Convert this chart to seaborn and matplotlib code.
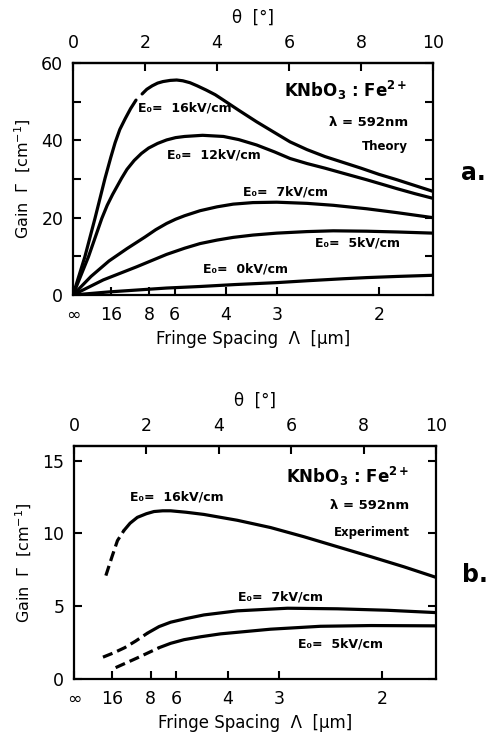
import numpy as np
import matplotlib
matplotlib.use("Agg")
import matplotlib.pyplot as plt
import seaborn as sns

# ---------------- data ----------------
WAVELENGTH_UM = 0.592
theta_ticks = [0, 2, 4, 6, 8, 10]
fringe_values = [np.inf, 16, 8, 6, 4, 3, 2]
fringe_labels = ["\u221e", "16", "8", "6", "4", "3", "2"]

# Panel a: theory, theta [deg] vs gain [cm^-1]
a16_rise_theta = [0, 0.33, 0.61, 0.89, 1.05, 1.17, 1.3, 1.45, 1.6, 1.75]
a16_rise_gain = [0, 9.9, 19.8, 30.2, 35.6, 39.4, 42.8, 45.6, 48.2, 50.4]
a16_fall_theta = [1.92, 2.05, 2.2, 2.35, 2.5, 2.7, 2.88, 3.05, 3.25, 3.45, 3.7, 3.95,
                  4.18, 4.6, 5.1, 5.6, 6.03, 6.5, 7.0, 7.5, 8.0, 8.5, 9.0, 9.5, 10.0]
a16_fall_gain = [52.0, 53.2, 54.1, 54.8, 55.2, 55.5, 55.6, 55.4, 54.9, 54.1, 53.0, 51.8,
                 50.4, 47.8, 44.8, 42.0, 39.6, 37.6, 35.8, 34.3, 32.8, 31.2, 29.8, 28.3, 26.8]

a12_theta = [0, 0.43, 0.8, 0.95, 1.1, 1.35, 1.5, 1.7, 1.9, 2.1, 2.35, 2.6, 2.85, 3.1,
             3.6, 4.18, 4.6, 5.1, 5.6, 6.03, 6.5, 7.0, 7.5, 8.16, 8.6, 9.0, 9.5, 10.0]
a12_gain = [0, 9.9, 19.8, 23.2, 26.0, 30.2, 32.5, 34.8, 36.6, 38.0, 39.2, 40.1, 40.7, 41.0,
            41.3, 41.0, 40.2, 38.8, 37.0, 35.3, 34.0, 32.8, 31.5, 29.8, 28.6, 27.5, 26.2, 25.0]

a7_theta = [0, 0.5, 1.0, 1.5, 2.0, 2.3, 2.6, 2.85, 3.1, 3.53, 4.0, 4.45, 5.0, 5.66,
            6.5, 7.23, 8.16, 9.0, 10.0]
a7_gain = [0, 4.8, 8.8, 12.0, 15.0, 16.9, 18.5, 19.6, 20.5, 21.8, 22.8, 23.5, 23.9, 24.0,
           23.7, 23.2, 22.3, 21.3, 20.0]

a5_theta = [0, 0.84, 1.77, 2.6, 3.1, 3.53, 4.0, 4.45, 5.0, 5.66, 6.5, 7.23, 8.16, 9.0, 10.0]
a5_gain = [0, 3.9, 7.3, 10.5, 12.1, 13.3, 14.2, 14.9, 15.5, 16.0, 16.4, 16.6, 16.5, 16.3, 16.0]

a0_theta = [0, 1.0, 2.6, 3.53, 4.5, 5.66, 6.53, 7.5, 8.16, 9.0, 10.0]
a0_gain = [0, 0.8, 1.8, 2.2, 2.7, 3.2, 3.7, 4.2, 4.5, 4.8, 5.1]

# Panel b: experiment (dashed = extrapolated part)
b16_dash_theta = [0.88, 1.05, 1.2, 1.38]
b16_dash_gain = [7.1, 8.4, 9.5, 10.2]
b16_theta = [1.38, 1.55, 1.75, 2.0, 2.21, 2.45, 2.67, 3.1, 3.59, 4.51, 5.43, 6.35,
             7.28, 8.2, 9.12, 10.0]
b16_gain = [10.2, 10.7, 11.1, 11.35, 11.5, 11.55, 11.55, 11.45, 11.3, 10.9, 10.4, 9.77,
            9.08, 8.4, 7.7, 6.98]

b7_dash_theta = [0.8, 1.1, 1.4, 1.7, 2.03]
b7_dash_gain = [1.5, 1.8, 2.15, 2.6, 3.15]
b7_theta = [2.03, 2.35, 2.67, 3.1, 3.59, 4.51, 5.9, 7.28, 8.66, 10.0]
b7_gain = [3.15, 3.6, 3.9, 4.15, 4.4, 4.68, 4.86, 4.82, 4.72, 4.56]

b5_dash_theta = [1.15, 1.75, 2.35]
b5_dash_gain = [0.78, 1.45, 2.15]
b5_theta = [2.35, 2.67, 3.04, 3.5, 4.05, 5.43, 6.81, 8.2, 10.0]
b5_gain = [2.15, 2.45, 2.7, 2.9, 3.1, 3.42, 3.62, 3.67, 3.65]

# ---------------- style ----------------
sns.set_style("ticks")
plt.rcParams["font.family"] = ["DejaVu Sans"]
plt.rcParams["mathtext.default"] = "regular"
plt.rcParams["text.color"] = "black"
plt.rcParams["axes.labelcolor"] = "black"
plt.rcParams["xtick.color"] = "black"
plt.rcParams["ytick.color"] = "black"
plt.rcParams["lines.solid_capstyle"] = "round"

LW = 2.3
DASH = (0, (3.2, 1.6))

fig = plt.figure(figsize=(4.88, 7.32), dpi=100)
fig.patch.set_facecolor("white")
ax_a = fig.add_axes([73 / 488, 1 - 295 / 732, 360 / 488, 232 / 732])
ax_b = fig.add_axes([74 / 488, 1 - 679 / 732, 362 / 488, 233 / 732])


def line(ax, x, y, dashed=False):
    sns.lineplot(x=x, y=y, ax=ax, color="black", lw=LW, sort=False,
                 estimator=None, linestyle=DASH if dashed else "-")


# panel a curves
line(ax_a, a16_rise_theta, a16_rise_gain)
line(ax_a, a16_fall_theta, a16_fall_gain)
line(ax_a, a12_theta, a12_gain)
line(ax_a, a7_theta, a7_gain)
line(ax_a, a5_theta, a5_gain)
line(ax_a, a0_theta, a0_gain)

# panel b curves
line(ax_b, b16_dash_theta, b16_dash_gain, dashed=True)
line(ax_b, b16_theta, b16_gain)
line(ax_b, b7_dash_theta, b7_dash_gain, dashed=True)
line(ax_b, b7_theta, b7_gain)
line(ax_b, b5_dash_theta, b5_dash_gain, dashed=True)
line(ax_b, b5_theta, b5_gain)

fringe_pos = [np.degrees(np.arcsin(WAVELENGTH_UM / (2 * v))) for v in fringe_values]


def style_axes(ax, ymax, major, minor, ylabels):
    ax.set_xlim(0, 10)
    ax.set_ylim(0, ymax)
    for s in ax.spines.values():
        s.set_visible(True)
        s.set_linewidth(1.6)
        s.set_color("black")
    ax.set_xticks(fringe_pos)
    ax.set_xticklabels(fringe_labels)
    ax.set_yticks(major)
    ax.set_yticklabels(ylabels)
    ax.set_yticks(minor, minor=True)
    ax.tick_params(axis="both", which="both", direction="in", length=6, width=1.5,
                   labelsize=12.5, colors="black")
    ax.tick_params(axis="y", which="both", right=True, pad=7)
    ax.tick_params(axis="x", which="both", top=False, pad=8)
    ax.set_xlabel("Fringe Spacing  \u039b  [\u03bcm]", fontsize=12, labelpad=4,
                  color="black")
    ax.set_ylabel("Gain  \u0393  [cm$^{-1}$]", fontsize=11.5, labelpad=6,
                  color="black")
    sec = ax.secondary_xaxis("top")
    sec.set_xticks(theta_ticks)
    sec.set_xticklabels([str(t) for t in theta_ticks])
    sec.tick_params(direction="in", length=6, width=1.5, labelsize=12.5, pad=8,
                    colors="black")
    sec.spines["top"].set_linewidth(1.6)
    sec.set_xlabel("\u03b8  [\u00b0]", fontsize=12, labelpad=8, color="black")
    ax.set_facecolor("white")


style_axes(ax_a, 60, [0, 20, 40, 60], [10, 30, 50], ["0", "20", "40", "60"])
style_axes(ax_b, 16, [0, 5, 10, 15], [], ["0", "5", "10", "15"])

# annotations panel a
lab = dict(fontsize=9, fontweight="bold", color="black", va="center")
ax_a.text(1.8, 48.3, "E\u2080=  16kV/cm", ha="left", **lab)
ax_a.text(2.61, 36.2, "E\u2080=  12kV/cm", ha="left", **lab)
ax_a.text(4.72, 26.6, "E\u2080=  7kV/cm", ha="left", **lab)
ax_a.text(6.72, 13.4, "E\u2080=  5kV/cm", ha="left", **lab)
ax_a.text(3.61, 6.7, "E\u2080=  0kV/cm", ha="left", **lab)
ax_a.text(9.3, 53.0, "KNbO$_3$ : Fe$^{2+}$", ha="right", va="center", fontsize=12,
          fontweight="bold", color="black")
ax_a.text(9.3, 44.7, "\u03bb = 592nm", ha="right", va="center", fontsize=9.5,
          fontweight="bold", color="black")
ax_a.text(9.3, 38.3, "Theory", ha="right", va="center", fontsize=8.5,
          fontweight="bold", color="black")

# annotations panel b
ax_b.text(1.54, 12.5, "E\u2080=  16kV/cm", ha="left", **lab)
ax_b.text(4.52, 5.64, "E\u2080=  7kV/cm", ha="left", **lab)
ax_b.text(6.2, 2.42, "E\u2080=  5kV/cm", ha="left", **lab)
ax_b.text(9.27, 13.9, "KNbO$_3$ : Fe$^{2+}$", ha="right", va="center", fontsize=12,
          fontweight="bold", color="black")
ax_b.text(9.27, 11.94, "\u03bb = 592nm", ha="right", va="center", fontsize=9.5,
          fontweight="bold", color="black")
ax_b.text(9.27, 10.09, "Experiment", ha="right", va="center", fontsize=8.5,
          fontweight="bold", color="black")

fig.text(473 / 488, 1 - 173 / 732, "a.", ha="center", va="center", fontsize=17,
         fontweight="bold", color="black")
fig.text(475 / 488, 1 - 575 / 732, "b.", ha="center", va="center", fontsize=17,
         fontweight="bold", color="black")

fig.savefig("out.png", dpi=100, facecolor="white")
